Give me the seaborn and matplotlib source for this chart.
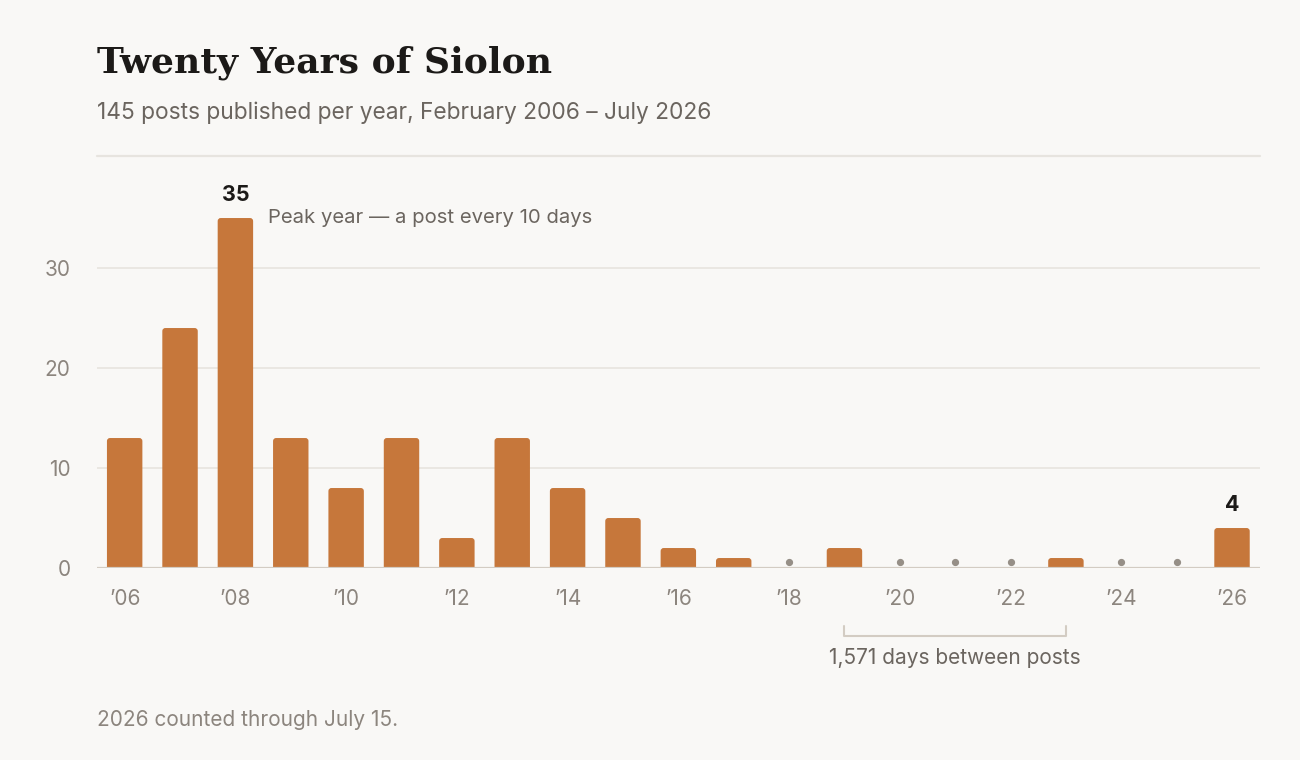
import numpy as np
import pandas as pd
import matplotlib
matplotlib.use("Agg")
import matplotlib.pyplot as plt
from matplotlib.patches import FancyBboxPatch
import seaborn as sns

# Posts per year
years = list(range(2006, 2027))
posts = [13, 24, 35, 13, 8, 13, 3, 13, 8, 5, 2, 1, 0, 2, 0, 0, 0, 1, 0, 0, 4]
tick_years = list(range(2006, 2027, 2))
tick_labels = ["\u2019" + str(y)[2:] for y in tick_years]
y_ticks = [0, 10, 20, 30]
labelled = {2008: "35", 2026: "4"}
gap_start, gap_end = 2019, 2023

BG = "#f9f8f6"
BAR = "#c6773b"
GRID = "#e7e4df"
BASE = "#d3ccc3"
TICK = "#8c857e"
SUB = "#6b655f"
INK = "#1c1a18"

sns.set_theme(style="white")
plt.rcParams["font.family"] = ["Inter", "DejaVu Sans"]

df = pd.DataFrame({"year": [str(y) for y in years], "posts": posts})

fig = plt.figure(figsize=(13, 7.6), dpi=100, facecolor=BG)
ax = fig.add_axes([0.0746, 0.2526, 0.8944, 0.5421], facecolor=BG)

sns.barplot(data=df, x="year", y="posts", color=BAR, width=0.64,
            saturation=1, ax=ax, zorder=3)

# swap the square bars for ones with softly rounded tops
for p in list(ax.patches):
    x0, w, h = p.get_x(), p.get_width(), p.get_height()
    p.remove()
    if h <= 0:
        continue
    fb = FancyBboxPatch((x0, -0.6), w, h + 0.6,
                        boxstyle="round,pad=0,rounding_size=0.055",
                        mutation_aspect=5.5, facecolor=BAR, edgecolor="none",
                        zorder=3, clip_on=True)
    ax.add_patch(fb)

ax.set_xlim(-0.5, len(years) - 0.5)
ax.set_ylim(0, 41.2)

# zero years as small dots
for i, v in enumerate(posts):
    if v == 0:
        ax.plot(i, 0.6, "o", color="#968f87", markersize=4.2, zorder=4,
                clip_on=False)

ax.set_yticks(y_ticks)
ax.set_yticklabels([str(t) for t in y_ticks])
ax.set_xticks([years.index(y) for y in tick_years])
ax.set_xticklabels(tick_labels)
ax.tick_params(axis="both", length=0, labelsize=15, labelcolor=TICK)
ax.tick_params(axis="x", pad=15)
ax.tick_params(axis="y", pad=19)
for lab in ax.get_yticklabels():
    lab.set_horizontalalignment("right")
ax.set_xlabel("")
ax.set_ylabel("")

for t in y_ticks[1:]:
    ax.axhline(t, color=GRID, lw=1.2, zorder=1)
ax.axhline(41.2, color=GRID, lw=1.6, zorder=1, clip_on=False)
ax.axhline(0, color=BASE, lw=1.6, zorder=5)
for s in ax.spines.values():
    s.set_visible(False)

for yr, txt in labelled.items():
    i = years.index(yr)
    ax.text(i, posts[i] + 1.3, txt, ha="center", va="bottom",
            fontsize=15.5, fontweight="bold", color=INK)

ax.text(years.index(2008) + 0.58, 35, "Peak year \u2014 a post every 10 days",
        ha="left", va="center", fontsize=14.6, color=SUB)

# bracket for the long silence
i0, i1 = years.index(gap_start), years.index(gap_end)
ax.plot([i0, i0, i1, i1], [-5.8, -6.8, -6.8, -5.8], color="#d3ccc3",
        lw=1.5, clip_on=False)
ax.text((i0 + i1) / 2, -8.0, "1,571 days between posts", ha="center",
        va="top", fontsize=15, color=SUB)

fig.text(0.0746, 0.918, "Twenty Years of Siolon", fontsize=26,
         fontweight="bold", color=INK, family=["DejaVu Serif"], va="center")
fig.text(0.0746, 0.851, "145 posts published per year, February 2006 \u2013 July 2026",
         fontsize=16.4, color=SUB, va="center")
fig.text(0.0746, 0.052, "2026 counted through July 15.", fontsize=15,
         color=TICK, va="center")

fig.savefig("out.png", dpi=100, facecolor=BG)
